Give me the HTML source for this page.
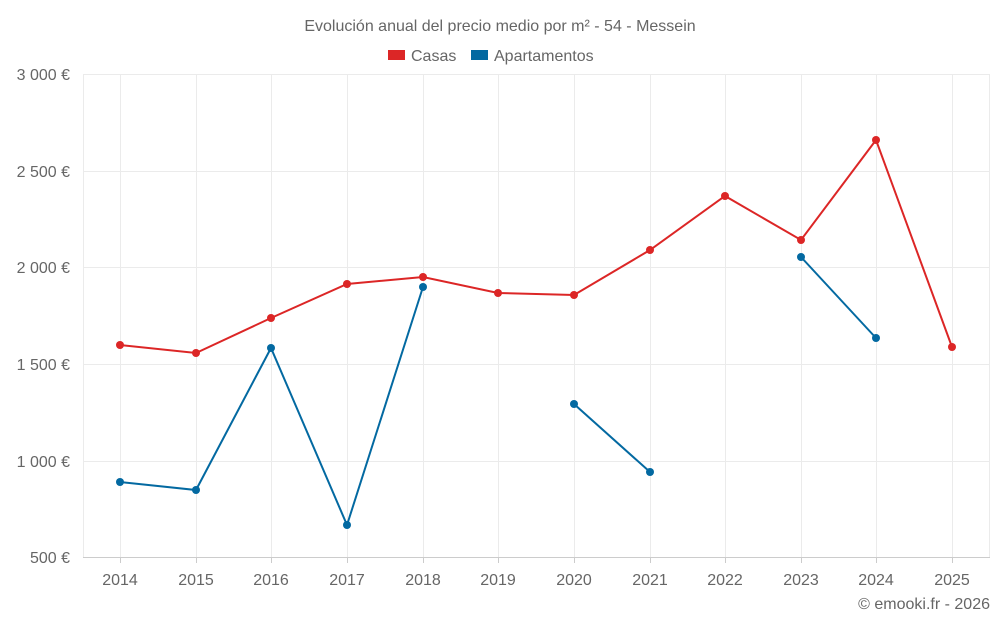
<!DOCTYPE html>
<html><head><meta charset="utf-8"><style>
body{margin:0;background:#fff;}
svg text{font-family:"Liberation Sans",sans-serif;fill:#666;}
</style></head><body>
<svg width="1000" height="625" viewBox="0 0 1000 625" xmlns="http://www.w3.org/2000/svg">
<rect width="1000" height="625" fill="#fff"/>
<text x="500" y="31" font-size="16" text-anchor="middle">Evolución anual del precio medio por m² - 54 - Messein</text>
<rect x="388" y="50" width="17" height="10" fill="#dc2626"/>
<text x="411" y="61" font-size="16">Casas</text>
<rect x="471" y="50" width="17" height="10" fill="#0369a1"/>
<text x="494" y="61" font-size="16">Apartamentos</text>
<g stroke="#ebebeb" stroke-width="1">
<line x1="83" y1="74.5" x2="990" y2="74.5"/>
<line x1="83" y1="171.5" x2="990" y2="171.5"/>
<line x1="83" y1="267.5" x2="990" y2="267.5"/>
<line x1="83" y1="364.5" x2="990" y2="364.5"/>
<line x1="83" y1="461.5" x2="990" y2="461.5"/>
<line x1="83.5" y1="74" x2="83.5" y2="557"/>
<line x1="120.5" y1="74" x2="120.5" y2="557"/><line x1="196.5" y1="74" x2="196.5" y2="557"/>
<line x1="271.5" y1="74" x2="271.5" y2="557"/><line x1="347.5" y1="74" x2="347.5" y2="557"/>
<line x1="423.5" y1="74" x2="423.5" y2="557"/><line x1="498.5" y1="74" x2="498.5" y2="557"/>
<line x1="574.5" y1="74" x2="574.5" y2="557"/><line x1="650.5" y1="74" x2="650.5" y2="557"/>
<line x1="725.5" y1="74" x2="725.5" y2="557"/><line x1="801.5" y1="74" x2="801.5" y2="557"/>
<line x1="876.5" y1="74" x2="876.5" y2="557"/><line x1="952.5" y1="74" x2="952.5" y2="557"/>
<line x1="989.5" y1="74" x2="989.5" y2="557"/>
</g>
<line x1="83" y1="557.5" x2="990" y2="557.5" stroke="#ccc"/>
<g stroke="#ccc"><line x1="120.5" y1="557" x2="120.5" y2="563"/><line x1="196.5" y1="557" x2="196.5" y2="563"/><line x1="271.5" y1="557" x2="271.5" y2="563"/><line x1="347.5" y1="557" x2="347.5" y2="563"/><line x1="423.5" y1="557" x2="423.5" y2="563"/><line x1="498.5" y1="557" x2="498.5" y2="563"/><line x1="574.5" y1="557" x2="574.5" y2="563"/><line x1="650.5" y1="557" x2="650.5" y2="563"/><line x1="725.5" y1="557" x2="725.5" y2="563"/><line x1="801.5" y1="557" x2="801.5" y2="563"/><line x1="876.5" y1="557" x2="876.5" y2="563"/><line x1="952.5" y1="557" x2="952.5" y2="563"/></g>
<g font-size="16" text-anchor="end">
<text x="70" y="80">3 000 €</text><text x="70" y="177">2 500 €</text><text x="70" y="273">2 000 €</text>
<text x="70" y="370">1 500 €</text><text x="70" y="467">1 000 €</text><text x="70" y="563">500 €</text>
</g>
<g font-size="16" text-anchor="middle">
<text x="120" y="585">2014</text><text x="196" y="585">2015</text><text x="271" y="585">2016</text><text x="347" y="585">2017</text>
<text x="423" y="585">2018</text><text x="498" y="585">2019</text><text x="574" y="585">2020</text><text x="650" y="585">2021</text>
<text x="725" y="585">2022</text><text x="801" y="585">2023</text><text x="876" y="585">2024</text><text x="952" y="585">2025</text>
</g>
<text x="990" y="609" font-size="16" text-anchor="end">© emooki.fr - 2026</text>
<polyline fill="none" stroke="#dc2626" stroke-width="2" points="120,345 196,353 271,318 347,284 423,277 498,293 574,295 650,250 725,196 801,240 876,140 952,347"/>
<g fill="#dc2626"><circle cx="120" cy="345" r="4"/><circle cx="196" cy="353" r="4"/><circle cx="271" cy="318" r="4"/><circle cx="347" cy="284" r="4"/><circle cx="423" cy="277" r="4"/><circle cx="498" cy="293" r="4"/><circle cx="574" cy="295" r="4"/><circle cx="650" cy="250" r="4"/><circle cx="725" cy="196" r="4"/><circle cx="801" cy="240" r="4"/><circle cx="876" cy="140" r="4"/><circle cx="952" cy="347" r="4"/></g>
<g fill="none" stroke="#0369a1" stroke-width="2">
<polyline points="120,482 196,490 271,348 347,525 423,287"/>
<polyline points="574,404 650,472"/>
<polyline points="801,257 876,338"/>
</g>
<g fill="#0369a1"><circle cx="120" cy="482" r="4"/><circle cx="196" cy="490" r="4"/><circle cx="271" cy="348" r="4"/><circle cx="347" cy="525" r="4"/><circle cx="423" cy="287" r="4"/><circle cx="574" cy="404" r="4"/><circle cx="650" cy="472" r="4"/><circle cx="801" cy="257" r="4"/><circle cx="876" cy="338" r="4"/></g>
</svg>
</body></html>
